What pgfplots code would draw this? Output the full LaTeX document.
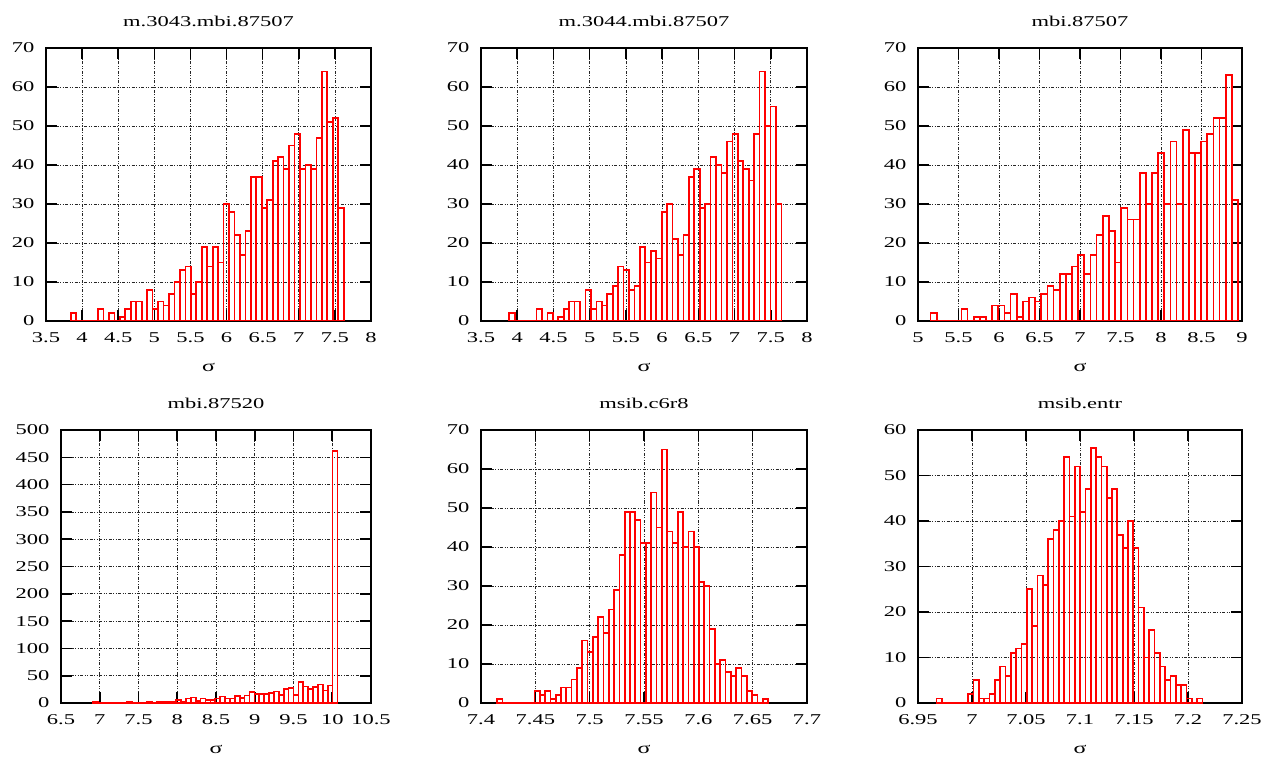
\documentclass[border=0pt]{standalone}
\usepackage{fontspec}
\setmainfont{Liberation Serif}[FakeStretch=1.5]
\usepackage{pgfplots}
\usepackage{pgfplotstable}
\pgfplotsset{compat=1.18}

% bin counts (equal-width bins per run; last row only closes the final interval)
\pgfplotstableread[row sep=\\]{n\\
2\\0\\0\\0\\0\\3\\0\\2\\0\\1\\3\\5\\5\\0\\8\\3\\5\\4\\7\\10\\13\\14\\7\\10\\19\\
14\\19\\15\\30\\28\\22\\17\\23\\37\\37\\29\\31\\41\\42\\39\\45\\48\\39\\40\\39\\47\\64\\51\\52\\29\\0\\}\tabA
\pgfplotstableread[row sep=\\]{n\\
2\\0\\0\\0\\0\\3\\0\\2\\0\\1\\3\\5\\5\\0\\8\\3\\5\\4\\7\\9\\14\\13\\8\\9\\19\\
15\\18\\16\\28\\30\\21\\17\\22\\37\\39\\29\\30\\42\\40\\38\\46\\48\\41\\39\\36\\48\\64\\50\\55\\30\\0\\}\tabB
\pgfplotstableread[row sep=\\]{n\\
2\\0\\0\\0\\0\\3\\0\\1\\1\\0\\4\\4\\2\\7\\1\\5\\6\\5\\7\\9\\8\\12\\12\\14\\17\\
12\\17\\22\\27\\23\\15\\29\\26\\26\\38\\30\\38\\43\\30\\46\\30\\49\\43\\43\\46\\48\\52\\52\\63\\31\\0\\}\tabC
\pgfplotstableread[row sep=\\]{n\\
2\\1\\0\\0\\0\\0\\1\\3\\1\\0\\1\\3\\1\\2\\3\\3\\3\\5\\2\\8\\10\\4\\8\\5\\5\\
8\\12\\8\\8\\13\\9\\14\\20\\17\\16\\16\\18\\21\\15\\26\\28\\15\\38\\30\\26\\29\\34\\23\\32\\462\\0\\}\tabD
\pgfplotstableread[row sep=\\]{n\\
1\\0\\0\\0\\0\\0\\0\\3\\2\\3\\1\\2\\4\\4\\6\\9\\16\\13\\17\\22\\18\\24\\29\\38\\49\\
49\\47\\41\\41\\54\\45\\65\\44\\41\\49\\40\\44\\40\\31\\30\\19\\10\\11\\8\\7\\9\\7\\3\\2\\0\\1\\0\\}\tabE
\pgfplotstableread[row sep=\\]{n\\
1\\0\\0\\0\\0\\0\\2\\5\\1\\1\\2\\5\\8\\6\\11\\12\\13\\25\\17\\28\\26\\36\\38\\40\\54\\
41\\52\\42\\47\\56\\54\\52\\45\\47\\37\\34\\40\\34\\21\\10\\16\\11\\8\\5\\6\\4\\4\\1\\0\\1\\0\\}\tabF

\pgfplotsset{
  gpbox/.style={
    scale only axis, anchor=south west,
    height=273pt, ymin=0,
    axis line style={line width=1.8pt},
    grid=major,
    major grid style={black!85, line width=0.7pt,
      dash pattern=on 3pt off 1.5pt on 1pt off 1.5pt on 1pt off 1.5pt},
    tick align=inside,
    major tick length=11pt,
    tick style={black, line width=1.6pt},
    /pgf/number format/assume math mode=true,
    /pgf/number format/fixed,
    scaled ticks=false,
    tick label style={font=\fontsize{15}{18}\selectfont},
    xticklabel style={yshift=-8pt},
    yticklabel style={xshift=-8pt},
    title style={font=\fontsize{15}{18}\selectfont, yshift=12pt},
    xlabel={σ},
    xlabel style={font=\fontsize{16}{19}\selectfont, yshift=-14pt},
  },
  gpbars/.style={color=red, ybar interval, draw=red, fill=none, line width=1.7pt},
}

\begin{document}
\begin{tikzpicture}
\useasboundingbox (0,0) rectangle (1271pt,758pt);

\begin{axis}[gpbox, at={(46pt,437pt)}, width=325pt,
  title={m.3043.mbi.87507},
  xmin=3.5, xmax=8, ymax=70,
  xtick={3.5,4,4.5,5,5.5,6,6.5,7,7.5,8},
  ytick={0,10,20,30,40,50,60,70}]
\addplot[gpbars] table[x expr={3.842+\coordindex*0.0756}, y=n] {\tabA};
\end{axis}

\begin{axis}[gpbox, at={(481pt,437pt)}, width=326pt,
  title={m.3044.mbi.87507},
  xmin=3.5, xmax=8, ymax=70,
  xtick={3.5,4,4.5,5,5.5,6,6.5,7,7.5,8},
  ytick={0,10,20,30,40,50,60,70}]
\addplot[gpbars] table[x expr={3.891+\coordindex*0.0751}, y=n] {\tabB};
\end{axis}

\begin{axis}[gpbox, at={(918pt,437pt)}, width=324pt,
  title={mbi.87507},
  xmin=5, xmax=9, ymax=70,
  xtick={5,5.5,6,6.5,7,7.5,8,8.5,9},
  ytick={0,10,20,30,40,50,60,70}]
\addplot[gpbars] table[x expr={5.156+\coordindex*0.0759}, y=n] {\tabC};
\end{axis}

\begin{axis}[gpbox, at={(61pt,55pt)}, width=310pt,
  title={mbi.87520},
  xmin=6.5, xmax=10.5, ymax=500,
  xtick={6.5,7,7.5,8,8.5,9,9.5,10,10.5},
  ytick={0,50,100,150,200,250,300,350,400,450,500}]
\addplot[gpbars] table[x expr={6.913+\coordindex*0.0631}, y=n] {\tabD};
\end{axis}

\begin{axis}[gpbox, at={(481pt,55pt)}, width=326pt,
  title={msib.c6r8},
  xmin=7.4, xmax=7.7, ymax=70,
  xtick={7.4,7.45,7.5,7.55,7.6,7.65,7.7},
  ytick={0,10,20,30,40,50,60,70}]
\addplot[gpbars] table[x expr={7.415+\coordindex*0.004885}, y=n] {\tabE};
\end{axis}

\begin{axis}[gpbox, at={(918pt,55pt)}, width=324pt,
  title={msib.entr},
  xmin=6.95, xmax=7.25, ymax=60,
  xtick={6.95,7,7.05,7.1,7.15,7.2,7.25},
  ytick={0,10,20,30,40,50,60}]
\addplot[gpbars] table[x expr={6.967+\coordindex*0.004928}, y=n] {\tabF};
\end{axis}
\end{tikzpicture}
\end{document}
